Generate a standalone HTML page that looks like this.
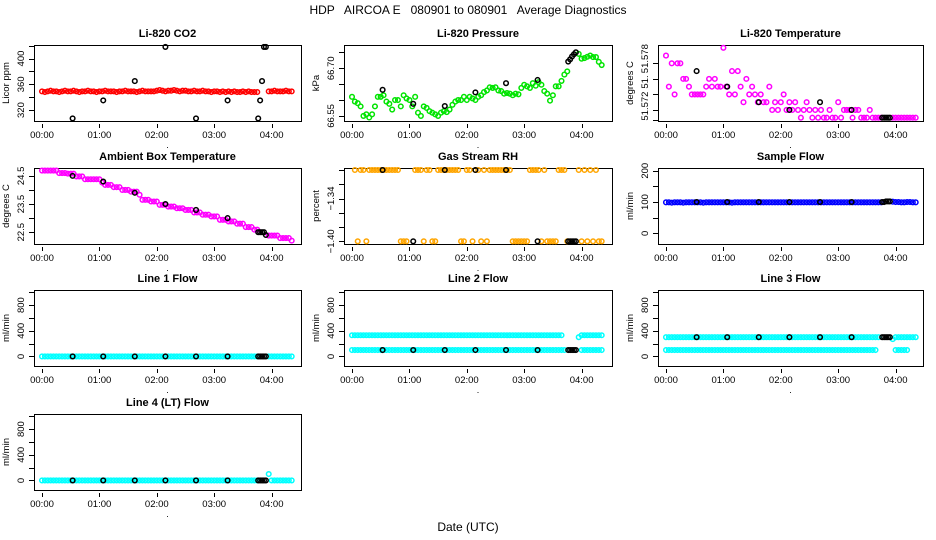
<!DOCTYPE html>
<html><head><meta charset="utf-8"><style>
html,body{margin:0;padding:0;background:#fff;}
svg{display:block;font-family:"Liberation Sans",Arial,sans-serif;}
text{white-space:pre;}
</style></head><body>
<svg id="chart" width="936" height="540" viewBox="0 0 936 540" xmlns="http://www.w3.org/2000/svg">
<text x="468" y="14" font-size="12" text-anchor="middle">HDP   AIRCOA E   080901 to 080901   Average Diagnostics</text>
<text x="468" y="531" font-size="12" text-anchor="middle">Date (UTC)</text>
</svg>
<script>
// time in minutes since 00:00
const times = [0,3,6,9,12,15,18,21,24,27,30,33,36,39,42,45,48,51,54,57,60,63,66,69,72,75,78,81,84,87,90,93,96,99,102,105,108,111,114,117,120,123,126,129,132,135,138,141,144,147,150,153,156,159,162,165,168,171,174,177,180,183,186,189,192,195,198,201,204,207,210,213,216,219,222,225,237,240,243,246,249,252,255,258,261];
const calTimes = [32,64,97,129,161,194,226,228,230,232,234];
const xTickLabels = ["00:00","01:00","02:00","03:00","04:00"];
const xTickMinutes = [0,60,120,180,240];

const co2 = [349,348,349,350,349,349,348,349,350,349, 349,350,349,348,349,349,350,349,349,348, 349,349,350,349,349,349,348,349,349,350, 349,349,349,348,349,350,349,349,349,349, 350,351,350,349,350,350,351,350,349,350, 350,349,349,350,349,349,350,349,349,348, 349,349,348,349,348,349,348,349,348,348, 349,348,349,348,348,348, 349,349,350,349,349,349,350,349,349];
const co2Cal = [307,335,365,418,307,335,307,335,365,418,418];

const pressure = [66.61,66.595,66.59,66.58,66.55,66.555,66.545,66.555,66.58,66.61, 66.61,66.615,66.595,66.588,66.57,66.60,66.60,66.58,66.615,66.605, 66.60,66.58,66.61,66.56,66.55,66.58,66.575,66.565,66.56,66.555, 66.55,66.56,66.565,66.562,66.57,66.585,66.595,66.60,66.60,66.61, 66.60,66.61,66.605,66.60,66.61,66.615,66.625,66.63,66.64,66.638, 66.64,66.63,66.628,66.62,66.622,66.62,66.615,66.62,66.618,66.638, 66.648,66.643,66.638,66.653,66.645,66.656,66.648,66.628,66.62,66.598, 66.615,66.643,66.643,66.66,66.68,66.69, 66.745,66.73,66.732,66.736,66.74,66.735,66.735,66.72,66.71];
const pressureCal = [66.632,66.588,66.581,66.624,66.653,66.663,66.721,66.728,66.737,66.744,66.75];

const licorTemp = [51.579,51.575,51.578,51.574,51.578,51.578,51.576,51.576,51.575,51.574, 51.574,51.574,51.574,51.574,51.575,51.576,51.575,51.576,51.575,51.575, 51.580,51.575,51.574,51.577,51.574,51.577,51.575,51.573,51.576,51.574, 51.575,51.574,51.573,51.574,51.573,51.573,51.575,51.572,51.573,51.572, 51.573,51.574,51.572,51.573,51.572,51.573,51.572,51.571,51.572,51.573, 51.572,51.571,51.572,51.571,51.572,51.571,51.571,51.572,51.571,51.571, 51.573,51.571,51.572,51.572,51.572,51.571,51.572,51.572,51.571,51.571, 51.571,51.572,51.571,51.571,51.571,51.571, 51.571,51.571,51.571,51.571,51.571,51.571,51.571,51.571,51.571];
const licorTempCal = [51.577,51.575,51.573,51.572,51.573,51.572,51.571,51.571,51.571,51.571,51.571];

const ambient = [24.69,24.69,24.69,24.69,24.69,24.69, 24.6,24.6,24.6, 24.58,24.58,24.58, 24.48,24.48,24.48, 24.38,24.38,24.38, 24.38,24.38,24.38, 24.26, 24.18,24.18,24.18, 24.1,24.1,24.1, 24.0,24.0,24.0, 23.94,23.94,23.94, 23.83, 23.65,23.65,23.65, 23.59,23.59,23.59, 23.47,23.47,23.47, 23.41,23.41,23.41, 23.35,23.35,23.35, 23.29,23.29,23.29, 23.2,23.2,23.2, 23.12,23.12,23.12, 23.06,23.06,23.06, 22.94,22.94,22.94, 22.88,22.88,22.88, 22.8,22.8,22.8, 22.68,22.68,22.68, 22.59,22.59, 22.38,22.38,22.38,22.38, 22.29,22.29,22.29,22.29, 22.2];
const ambientCal = [24.5,24.3,23.9,23.5,23.29,23.0,22.5,22.5,22.5,22.5,22.4];

const rh = [null,-1.30,-1.40,-1.30,-1.30,-1.40,-1.30,-1.30,-1.30,-1.30, -1.30,-1.30,-1.30,-1.30,-1.30,-1.30,-1.30,-1.40,-1.40,-1.40, null,null,-1.30,-1.30,-1.30,-1.40,-1.30,-1.30,-1.40,-1.40, -1.30,-1.30,-1.30,-1.30,-1.30,-1.30,-1.30,-1.30,-1.40,-1.40, -1.30,-1.30,-1.40,-1.30,-1.30,-1.40,-1.30,-1.40,-1.30,-1.30, -1.30,-1.30,-1.30,-1.30,-1.30,-1.30,-1.40,-1.40,-1.40,-1.40, -1.40,-1.40,-1.30,-1.30,-1.30,-1.30,-1.40,-1.30,-1.40,-1.40, -1.40,-1.40,-1.30,-1.30,-1.30,-1.40, -1.30,-1.40,-1.30,-1.40,-1.30,-1.40,-1.30,-1.40,-1.40];
const rhCal = [-1.30,-1.40,-1.30,-1.30,-1.30,-1.40,-1.40,-1.40,-1.40,-1.40,-1.40];

const sampleFlow = [99,99,98,99,99,99,98,99,99,99, 99,99,99,98,99,99,99,99,99,99, 99,99,99,98,99,99,99,99,99,99, 99,99,99,99,99,99,99,99,99,99, 99,99,99,99,99,99,99,99,99,99, 99,99,99,99,99,99,99,99,99,99, 99,99,99,99,99,99,99,99,99,99, 99,99,99,99,99,99, 101,100,100,99,99,100,100,99,99];
const sampleFlowCal = [100,100,100,100,100,100,100,100,102,102,102];

const line1Flow = [0,0,0,0,0,0,0,0,0,0, 0,0,0,0,0,0,0,0,0,0, 0,0,0,0,0,0,0,0,0,0, 0,0,0,0,0,0,0,0,0,0, 0,0,0,0,0,0,0,0,0,0, 0,0,0,0,0,0,0,0,0,0, 0,0,0,0,0,0,0,0,0,0, 0,0,0,0,0,0, 0,0,0,0,0,0,0,0,0];
const line1Cal = [0,0,0,0,0,0,0,0,0,0,0];

const line2Upper = [330,330,330,330,330,330,330,330,330,330, 330,330,330,330,330,330,330,330,330,330, 330,330,330,330,330,330,330,330,330,330, 330,330,330,330,330,330,330,330,330,330, 330,330,330,330,330,330,330,330,330,330, 330,330,330,330,330,330,330,330,330,330, 330,330,330,330,330,330,330,330,330,330, 330,330,330,330,null,null, 300,330,330,330,330,330,330,330,330];
const line2Lower = [100,100,100,100,100,100,100,100,100,100, 100,100,100,100,100,100,100,100,100,100, 100,100,100,100,100,100,100,100,100,100, 100,100,100,100,100,100,100,100,100,100, 100,100,100,100,100,100,100,100,100,100, 100,100,100,100,100,100,100,100,100,100, 100,100,100,100,100,100,100,100,100,100, 100,100,100,100,100,null, null,100,100,100,100,100,100,100,100];
const line2Cal = [100,100,100,100,100,100,100,100,100,100,100];

const line3Upper = [300,300,300,300,300,300,300,300,300,300, 300,300,300,300,300,300,300,300,300,300, 300,300,300,300,300,300,300,300,300,300, 300,300,300,300,300,300,300,300,300,300, 300,300,300,300,300,300,300,300,300,300, 300,300,300,300,300,300,300,300,300,300, 300,300,300,300,300,300,300,300,300,300, 300,300,300,300,300,null, 270,300,300,300,300,300,300,300,300];
const line3Lower = [100,100,100,100,100,100,100,100,100,100, 100,100,100,100,100,100,100,100,100,100, 100,100,100,100,100,100,100,100,100,100, 100,100,100,100,100,100,100,100,100,100, 100,100,100,100,100,100,100,100,100,100, 100,100,100,100,100,100,100,100,100,100, 100,100,100,100,100,100,100,100,100,100, 100,100,100,100,null,null, null,100,100,100,100,100,null,null,null];
const line3Cal = [300,300,300,300,300,300,300,300,300,300,300];

const line4Flow = [0,0,0,0,0,0,0,0,0,0, 0,0,0,0,0,0,0,0,0,0, 0,0,0,0,0,0,0,0,0,0, 0,0,0,0,0,0,0,0,0,0, 0,0,0,0,0,0,0,0,0,0, 0,0,0,0,0,0,0,0,0,0, 0,0,0,0,0,0,0,0,0,0, 0,0,0,0,0,0, 100,0,0,0,0,0,0,0,0];
const line4Cal = [0,0,0,0,0,0,0,0,0,0,0];

const flowTicks = [0,200,400,600,800,1000];
const flowLabels = [[0,"0"],[400,"400"],[800,"800"]];

const NS = "http://www.w3.org/2000/svg";
const svg = document.getElementById("chart");
const colX = [34,344,658];
const colW = [267,268,265];
const rowY = [45,168,290,414];
const boxH = 76;
const hourPx = 57.4;

function mk(tag, attrs, parent) {
  const el = document.createElementNS(NS, tag);
  for (const k in attrs) el.setAttribute(k, attrs[k]);
  (parent || svg).appendChild(el);
  return el;
}

function panel(p) {
  const g = mk("g", {});
  
  
  const L = colX[p.col], W = colW[p.col], T = rowY[p.row], B = T + boxH;
  const x0 = L + 8;
  const xs = m => x0 + m / 60 * hourPx;
  const ys = v => B - (v - p.ylim[0]) / (p.ylim[1] - p.ylim[0]) * boxH;
  const tt = mk("text", {x: L + W / 2, y: T - 8, "font-size": 11, "font-weight": "bold", "text-anchor": "middle"}, g);
  tt.textContent = p.title;
  
  
  const box = mk("rect", {x: L + 0.5, y: T + 0.5, width: W, height: boxH, fill: "none", stroke: "#000", "stroke-width": 1}, g);
  
  
  xTickMinutes.forEach((m, i) => {
    const xx = Math.round(xs(m)) + 0.5;
    const tk = mk("line", {x1: xx, x2: xx, y1: B + 3, y2: B + 7, stroke: "#000"}, g);
    
    
    const lb = mk("text", {x: xs(m), y: B + 17, "font-size": 9.5, "text-anchor": "middle"}, g);
    lb.textContent = xTickLabels[i];
    
    
  });
  const dot = mk("text", {x: L + W / 2, y: B + 27, "font-size": 9, "text-anchor": "middle"}, g);
  dot.textContent = ".";
  
  
  p.yticks.forEach(v => {
    const yy = Math.round(ys(v)) + 0.5;
    const tk = mk("line", {x1: L - 5, x2: L, y1: yy, y2: yy, stroke: "#000"}, g);
    
    
  });
  p.ylabels.forEach(([v, s]) => {
    const yy = ys(v), xx = L - 10;
    const lb = mk("text", {x: xx, y: yy, "font-size": 9.5, "text-anchor": "middle", transform: `rotate(-90 ${xx} ${yy})`}, g);
    lb.textContent = s;
    
    
  });
  const ux = L - 25, uy = T + boxH / 2;
  const ut = mk("text", {x: ux, y: uy, "font-size": 9.5, "text-anchor": "middle", transform: `rotate(-90 ${ux} ${uy})`}, g);
  ut.textContent = p.unit;
  
  
  p.series.forEach(s => {
    s.vals.forEach((v, i) => {
      if (v === null || v === undefined) return;
      const c = mk("circle", {cx: xs(s.t[i]), cy: ys(v), r: 2.3, fill: "none", stroke: s.color, "stroke-width": 1.5}, g);
      
      
    });
  });
}

const flowLim = [-149, 1035];
panel({name: "co2-panel", title: "Li-820 CO2", unit: "Licor ppm", col: 0, row: 0, ylim: [303, 421], yticks: [320,340,360,380,400,420], ylabels: [[320,"320"],[360,"360"],[400,"400"]],
  series: [{t: times, vals: co2, color: "#ff0000"}, {t: calTimes, vals: co2Cal, color: "#000"}]});
panel({name: "pressure-panel", title: "Li-820 Pressure", unit: "kPa", col: 1, row: 0, ylim: [66.534, 66.773], yticks: [66.55,66.60,66.65,66.70,66.75], ylabels: [[66.55,"66.55"],[66.70,"66.70"]],
  series: [{t: times, vals: pressure, color: "#00e400"}, {t: calTimes, vals: pressureCal, color: "#000"}]});
panel({name: "licor-temperature-panel", title: "Li-820 Temperature", unit: "degrees C", col: 2, row: 0, ylim: [51.57058, 51.58036], yticks: [51.578,51.576,51.574,51.572,51.5707], ylabels: [[51.5786,"51.578"],[51.5756,"51."],[51.5725,"51.572"]],
  series: [{t: times, vals: licorTemp, color: "#ff00ff"}, {t: calTimes, vals: licorTempCal, color: "#000"}]});
panel({name: "ambient-temperature-panel", title: "Ambient Box Temperature", unit: "degrees C", col: 0, row: 1, ylim: [22.08, 24.78], yticks: [22.5,23.0,23.5,24.0,24.5], ylabels: [[22.5,"22.5"],[23.5,"23.5"],[24.5,"24.5"]],
  series: [{t: times, vals: ambient, color: "#ff00ff"}, {t: calTimes, vals: ambientCal, color: "#000"}]});
panel({name: "gas-rh-panel", title: "Gas Stream RH", unit: "percent", col: 1, row: 1, ylim: [-1.4038, -1.2972], yticks: [-1.40,-1.38,-1.36,-1.34,-1.32,-1.30], ylabels: [[-1.40,"−1.40"],[-1.34,"−1.34"]],
  series: [{t: times, vals: rh, color: "#ffa500"}, {t: calTimes, vals: rhCal, color: "#000"}]});
panel({name: "sample-flow-panel", title: "Sample Flow", unit: "ml/min", col: 2, row: 1, ylim: [-34, 208.6], yticks: [0,50,100,150,200], ylabels: [[0,"0"],[100,"100"],[200,"200"]],
  series: [{t: times, vals: sampleFlow, color: "#0000ff"}, {t: calTimes, vals: sampleFlowCal, color: "#000"}]});
panel({name: "line1-flow-panel", title: "Line 1 Flow", unit: "ml/min", col: 0, row: 2, ylim: flowLim, yticks: flowTicks, ylabels: flowLabels,
  series: [{t: times, vals: line1Flow, color: "#00ffff"}, {t: calTimes, vals: line1Cal, color: "#000"}]});
panel({name: "line2-flow-panel", title: "Line 2 Flow", unit: "ml/min", col: 1, row: 2, ylim: flowLim, yticks: flowTicks, ylabels: flowLabels,
  series: [{t: times, vals: line2Upper, color: "#00ffff"}, {t: times, vals: line2Lower, color: "#00ffff"}, {t: calTimes, vals: line2Cal, color: "#000"}]});
panel({name: "line3-flow-panel", title: "Line 3 Flow", unit: "ml/min", col: 2, row: 2, ylim: flowLim, yticks: flowTicks, ylabels: flowLabels,
  series: [{t: times, vals: line3Upper, color: "#00ffff"}, {t: times, vals: line3Lower, color: "#00ffff"}, {t: calTimes, vals: line3Cal, color: "#000"}]});
panel({name: "line4-flow-panel", title: "Line 4 (LT) Flow", unit: "ml/min", col: 0, row: 3, ylim: flowLim, yticks: flowTicks, ylabels: flowLabels,
  series: [{t: times, vals: line4Flow, color: "#00ffff"}, {t: calTimes, vals: line4Cal, color: "#000"}]});
</script>
</body></html>
